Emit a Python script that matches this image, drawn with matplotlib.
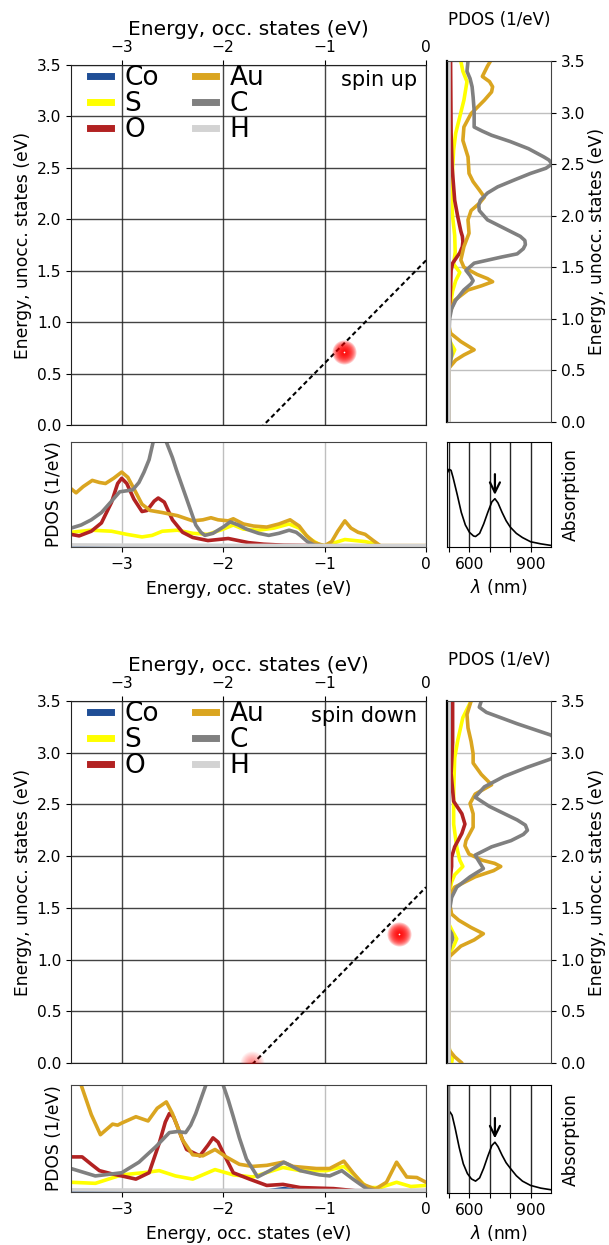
import numpy as np
import matplotlib
matplotlib.use('Agg')
import matplotlib.pyplot as plt
from matplotlib.lines import Line2D

# ---------------- data ----------------
species = ['Co', 'S', 'O', 'Au', 'C', 'H']
colors = ['#1f4e96', '#ffff00', '#b22222', '#daa520', '#808080', '#d3d3d3']

# spin up, occupied PDOS (energy eV, PDOS arb.)
up_occ_Co_E = [-3.5, 0.0]
up_occ_Co = [0.0, 0.0]
up_occ_S_E = [-3.5, -3.3, -3.1, -2.95, -2.8, -2.7, -2.6, -2.45, -2.3, -2.15, -2.0, -1.9, -1.8, -1.65,
              -1.5, -1.35, -1.25, -1.15, -1.05, -1.0, -0.9, -0.8, -0.7, -0.6, -0.5, -0.45, 0.0]
up_occ_S = [0.13, 0.15, 0.14, 0.11, 0.085, 0.10, 0.14, 0.15, 0.12, 0.11, 0.16, 0.20, 0.16, 0.15,
            0.17, 0.21, 0.17, 0.07, 0.01, 0.0, 0.03, 0.06, 0.05, 0.04, 0.02, 0.0, 0.0]
up_occ_O_E = [-3.5, -3.42, -3.3, -3.2, -3.1, -3.04, -3.0, -2.95, -2.88, -2.8, -2.75, -2.68, -2.64,
              -2.58, -2.5, -2.4, -2.3, -2.15, -2.05, -1.95, -1.85, -1.75, -1.6, -1.4, -1.0, 0.0]
up_occ_O = [0.11, 0.095, 0.14, 0.22, 0.42, 0.60, 0.65, 0.60, 0.45, 0.33, 0.34, 0.43, 0.46,
            0.42, 0.25, 0.13, 0.08, 0.05, 0.06, 0.07, 0.05, 0.03, 0.015, 0.005, 0.0, 0.0]
up_occ_Au_E = [-3.5, -3.45, -3.38, -3.29, -3.22, -3.16, -3.08, -3.0, -2.94, -2.88, -2.8, -2.72, -2.6,
               -2.45, -2.3, -2.2, -2.12, -2.05, -1.95, -1.9, -1.8, -1.7, -1.57, -1.45, -1.34, -1.25,
               -1.18, -1.1, -1.0, -0.93, -0.87, -0.8, -0.74, -0.67, -0.6, -0.52, -0.45, 0.0]
up_occ_Au = [0.55, 0.51, 0.57, 0.63, 0.61, 0.60, 0.65, 0.71, 0.66, 0.55, 0.40, 0.34, 0.32,
             0.29, 0.24, 0.25, 0.27, 0.25, 0.24, 0.26, 0.21, 0.19, 0.18, 0.21, 0.25, 0.19,
             0.10, 0.03, 0.0, 0.04, 0.14, 0.24, 0.17, 0.13, 0.11, 0.05, 0.0, 0.0]
up_occ_C_E = [-3.5, -3.4, -3.3, -3.2, -3.1, -3.02, -2.95, -2.89, -2.83, -2.78, -2.73, -2.69, -2.63,
              -2.56, -2.5, -2.46, -2.37, -2.27, -2.22, -2.18, -2.1, -2.0, -1.93, -1.85, -1.77, -1.65,
              -1.55, -1.45, -1.35, -1.28, -1.24, -1.17, -1.1, -1.0, 0.0]
up_occ_C = [0.17, 0.20, 0.25, 0.32, 0.43, 0.52, 0.53, 0.54, 0.61, 0.71, 0.83, 1.0, 1.08,
            1.0, 0.85, 0.73, 0.48, 0.20, 0.13, 0.10, 0.12, 0.18, 0.23, 0.20, 0.16, 0.12,
            0.10, 0.12, 0.15, 0.13, 0.10, 0.04, 0.005, 0.0, 0.0]
up_occ_H_E = [-3.5, -3.0, -2.0, -1.0, 0.0]
up_occ_H = [0.008, 0.006, 0.004, 0.002, 0.0]

# spin up, unoccupied PDOS
up_un_Co_E = [0.0, 3.5]
up_un_Co = [0.0, 0.0]
up_un_S_E = [0.0, 0.55, 0.63, 0.7, 0.77, 0.85, 1.0, 1.12, 1.27, 1.37, 1.45, 1.53, 1.65, 1.81, 1.99,
             2.15, 2.31, 2.47, 2.64, 2.8, 2.96, 3.12, 3.3, 3.4, 3.5]
up_un_S = [0.0, 0.0, 0.03, 0.06, 0.02, 0.0, 0.0, 0.015, 0.04, 0.07, 0.11, 0.05, 0.065, 0.06, 0.04,
           0.03, 0.035, 0.04, 0.05, 0.07, 0.11, 0.15, 0.18, 0.14, 0.12]
up_un_O_E = [0.0, 0.95, 1.1, 1.3, 1.47, 1.54, 1.64, 1.7, 1.75, 1.8, 1.85, 1.99, 2.15, 2.47, 2.8, 3.5]
up_un_O = [0.0, 0.0, 0.01, 0.02, 0.025, 0.04, 0.11, 0.135, 0.14, 0.135, 0.12, 0.09, 0.06, 0.035,
           0.025, 0.02]
up_un_Au_E = [0.0, 0.5, 0.53, 0.6, 0.65, 0.7, 0.78, 0.86, 0.95, 1.05, 1.18, 1.28, 1.32, 1.36, 1.39,
              1.43, 1.5, 1.57, 1.7, 1.83, 1.96, 2.05, 2.12, 2.18, 2.25, 2.33, 2.41, 2.57, 2.73, 2.86,
              2.99, 3.12, 3.2, 3.25, 3.3, 3.35, 3.45, 3.5]
up_un_Au = [0.0, 0.0, 0.01, 0.07, 0.15, 0.25, 0.12, 0.02, 0.0, 0.01, 0.06, 0.19, 0.32, 0.43, 0.38,
            0.28, 0.15, 0.12, 0.15, 0.20, 0.19, 0.22, 0.30, 0.35, 0.30, 0.24, 0.20, 0.19, 0.14, 0.15,
            0.22, 0.35, 0.42, 0.43, 0.40, 0.33, 0.38, 0.41]
up_un_C_E = [0.0, 0.5, 0.58, 0.66, 0.75, 0.85, 1.0, 1.1, 1.18, 1.28, 1.34, 1.37, 1.42, 1.47, 1.54,
             1.6, 1.63, 1.68, 1.72, 1.76, 1.8, 1.83, 1.9, 1.96, 2.05, 2.1, 2.15, 2.22, 2.28, 2.35,
             2.41, 2.46, 2.5, 2.54, 2.57, 2.65, 2.72, 2.78, 2.82, 2.86, 3.02, 3.15, 3.25, 3.33,
             3.4, 3.5]
up_un_C = [0.0, 0.0, 0.02, 0.03, 0.02, 0.005, 0.01, 0.03, 0.07, 0.15, 0.22, 0.24, 0.21, 0.17, 0.25,
           0.52, 0.67, 0.73, 0.75, 0.745, 0.70, 0.64, 0.50, 0.38, 0.30, 0.295, 0.31, 0.38, 0.48, 0.65,
           0.80, 0.95, 1.01, 0.98, 0.93, 0.78, 0.60, 0.42, 0.33, 0.25, 0.25, 0.24, 0.23, 0.21,
           0.18, 0.19]
up_un_H_E = [0.0, 3.5]
up_un_H = [0.0, 0.0]

# spin down, occupied PDOS
dn_occ_Co_E = [-3.5, -1.55, -1.4, -1.25, 0.0]
dn_occ_Co = [0.0, 0.0, 0.02, 0.0, 0.0]
dn_occ_S_E = [-3.5, -3.26, -3.0, -2.79, -2.63, -2.47, -2.3, -2.08, -1.9, -1.71, -1.41, -1.24, -0.98,
              -0.81, -0.72, -0.58, -0.45, -0.29, -0.15, 0.0]
dn_occ_S = [0.08, 0.07, 0.15, 0.17, 0.19, 0.14, 0.11, 0.20, 0.15, 0.13, 0.22, 0.19, 0.19,
            0.23, 0.16, 0.03, 0.03, 0.08, 0.04, 0.05]
dn_occ_O_E = [-3.5, -3.39, -3.3, -3.22, -3.1, -3.0, -2.86, -2.73, -2.63, -2.57, -2.53, -2.49, -2.46,
              -2.4, -2.36, -2.23, -2.15, -2.1, -2.05, -2.0, -1.9, -1.74, -1.57, -1.41, -1.24, -0.91,
              -0.7, 0.0]
dn_occ_O = [0.32, 0.32, 0.25, 0.19, 0.16, 0.14, 0.11, 0.17, 0.45, 0.65, 0.73, 0.70, 0.63,
            0.48, 0.39, 0.33, 0.43, 0.50, 0.46, 0.36, 0.17, 0.11, 0.05, 0.06, 0.03, 0.02,
            0.0, 0.0]
dn_occ_Au_E = [-3.5, -3.45, -3.4, -3.3, -3.21, -3.09, -3.04, -3.0, -2.86, -2.74, -2.65, -2.56, -2.5,
               -2.4, -2.3, -2.2, -2.08, -1.97, -1.84, -1.71, -1.57, -1.41, -1.31, -1.08, -0.95,
               -0.81, -0.72, -0.62, -0.5, -0.39, -0.29, -0.19, -0.09, 0.0]
dn_occ_Au = [1.25, 1.12, 1.0, 0.72, 0.53, 0.63, 0.62, 0.64, 0.70, 0.66, 0.78, 0.84, 0.73,
             0.48, 0.34, 0.33, 0.39, 0.32, 0.25, 0.23, 0.24, 0.27, 0.23, 0.21, 0.21,
             0.28, 0.17, 0.06, 0.015, 0.08, 0.27, 0.13, 0.125, 0.08]
dn_occ_C_E = [-3.5, -3.26, -3.0, -2.83, -2.66, -2.53, -2.45, -2.37, -2.32, -2.27, -2.2, -2.17, -2.1,
              -2.03, -2.0, -1.95, -1.9, -1.84, -1.77, -1.66, -1.54, -1.4, -1.24, -1.05, -0.95,
              -0.83, -0.72, -0.58, -0.5, 0.0]
dn_occ_C = [0.21, 0.14, 0.17, 0.27, 0.42, 0.55, 0.56, 0.55, 0.62, 0.73, 0.92, 1.0, 1.08,
            1.04, 1.0, 0.86, 0.70, 0.50, 0.30, 0.13, 0.19, 0.27, 0.19, 0.15, 0.14,
            0.19, 0.11, 0.015, 0.0, 0.0]
dn_occ_H_E = [-3.5, -3.0, -2.0, -1.0, 0.0]
dn_occ_H = [0.008, 0.006, 0.004, 0.002, 0.0]

# spin down, unoccupied PDOS
dn_un_Co_E = [0.0, 3.5]
dn_un_Co = [0.0, 0.0]
dn_un_S_E = [0.0, 0.06, 0.15, 1.05, 1.13, 1.2, 1.27, 1.35, 1.6, 1.75, 1.82, 1.9, 1.96, 2.0, 2.09,
             2.31, 2.63, 2.95, 3.12, 3.34, 3.5]
dn_un_S = [0.03, 0.04, 0.0, 0.0, 0.05, 0.08, 0.04, 0.0, 0.0, 0.03, 0.06, 0.14, 0.11, 0.10, 0.08,
           0.05, 0.05, 0.06, 0.09, 0.14, 0.22]
dn_un_O_E = [0.0, 1.1, 1.2, 1.3, 1.6, 1.73, 1.9, 1.99, 2.09, 2.22, 2.31, 2.41, 2.53, 2.8, 3.1, 3.5]
dn_un_O = [0.0, 0.0, 0.015, 0.0, 0.0, 0.01, 0.03, 0.03, 0.06, 0.13, 0.16, 0.13, 0.05, 0.025, 0.04, 0.04]
dn_un_Au_E = [0.0, 0.06, 0.12, 0.2, 0.95, 1.03, 1.13, 1.19, 1.25, 1.31, 1.38, 1.44, 1.55, 1.63, 1.7,
              1.8, 1.86, 1.9, 1.93, 1.96, 2.02, 2.1, 2.15, 2.28, 2.41, 2.51, 2.6, 2.69, 2.79, 2.9,
              2.99, 3.11, 3.24, 3.37, 3.5]
dn_un_Au = [0.13, 0.06, 0.01, 0.0, 0.0, 0.01, 0.12, 0.25, 0.34, 0.22, 0.10, 0.03, 0.01, 0.02, 0.06,
            0.26, 0.44, 0.51, 0.45, 0.33, 0.20, 0.16, 0.17, 0.24, 0.24, 0.21, 0.26, 0.42, 0.32, 0.24,
            0.24, 0.22, 0.19, 0.18, 0.22]
dn_un_C_E = [0.0, 1.05, 1.15, 1.2, 1.25, 1.3, 1.45, 1.51, 1.6, 1.7, 1.8, 1.88, 1.96, 2.01, 2.09, 2.15,
             2.21, 2.25, 2.3, 2.35, 2.48, 2.57, 2.67, 2.77, 2.86, 2.94, 3.06, 3.17, 3.28, 3.39, 3.44,
             3.5]
dn_un_C = [0.0, 0.0, 0.02, 0.04, 0.03, 0.0, 0.0, 0.015, 0.03, 0.08, 0.21, 0.34, 0.29, 0.26, 0.42, 0.61,
           0.73, 0.77, 0.75, 0.67, 0.40, 0.26, 0.35, 0.54, 0.77, 1.0, 1.12, 1.0, 0.67, 0.37, 0.30,
           0.32]
dn_un_H_E = [0.0, 3.5]
dn_un_H = [0.0, 0.0]

# absorption spectra
up_abs_wl = [490, 500, 510, 520, 540, 560, 580, 600, 620, 630, 650, 670, 690, 710, 725, 740, 760,
             780, 800, 830, 860, 900, 950, 1000]
up_abs = [0.70, 0.74, 0.73, 0.66, 0.50, 0.33, 0.21, 0.14, 0.105, 0.10, 0.13, 0.22, 0.33, 0.43, 0.46,
          0.42, 0.33, 0.25, 0.19, 0.13, 0.09, 0.05, 0.03, 0.015]
dn_abs_wl = [490, 500, 505, 515, 530, 550, 570, 590, 610, 630, 650, 670, 690, 710, 725, 740, 760,
             780, 800, 830, 860, 900, 950, 1000]
dn_abs = [0.70, 0.74, 0.75, 0.72, 0.60, 0.42, 0.27, 0.18, 0.13, 0.11, 0.14, 0.23, 0.34, 0.44, 0.47,
          0.43, 0.35, 0.28, 0.23, 0.16, 0.11, 0.07, 0.045, 0.03]
arrow_wl = [725, 725]
arrow_top = [0.72, 0.72]
arrow_tip = [0.47, 0.48]

# transitions (occ energy, unocc energy, intensity) and optical gap lines
up_tr_occ = [-0.81]
up_tr_un = [0.71]
up_tr_int = [1.0]
dn_tr_occ = [-0.27, -1.72]
dn_tr_un = [1.25, 0.0]
dn_tr_int = [1.0, 0.25]
gap_energy = [1.6, 1.7]
spin_labels = ['spin up', 'spin down']

# ---------------- figure ----------------
W, H = 609, 1245
fig = plt.figure(figsize=(W / 100, H / 100), dpi=100)


def ax_px(x0, y0, x1, y1):
    return fig.add_axes([x0 / W, 1 - y1 / H, (x1 - x0) / W, (y1 - y0) / H])


TICK = 11.2
LAB = 12.3
LW = 2.6


def glow(ax, x, y, inten):
    for d in np.linspace(24, 3, 12):
        s = (d / 1.389) ** 2
        ax.scatter([x], [y], s=s, color='red', alpha=0.2 * inten, lw=0, zorder=5, clip_on=True)
    if inten > 0.5:
        ax.scatter([x], [y], s=1.5, color='white', lw=0, zorder=6)


def block(main_box, right_box, bot_box, abs_box, occ, un, abs_wl, absv, tr, gap, label,
          arrow, gray_left):
    # main map
    ax = ax_px(*main_box)
    ax.set_xlim(-3.5, 0)
    ax.set_ylim(0, 3.5)
    ax.xaxis.tick_top()
    ax.xaxis.set_label_position('top')
    ax.set_xticks([-3, -2, -1, 0])
    ax.set_yticks(np.arange(0, 3.51, 0.5))
    ax.grid(True, color='#222222', lw=1.0, alpha=0.85)
    ax.tick_params(labelsize=TICK)
    ax.set_xlabel('Energy, occ. states (eV)', fontsize=14.5, labelpad=4)
    ax.set_ylabel('Energy, unocc. states (eV)', fontsize=LAB, labelpad=3)
    xs = np.array([-3.5, 0.0])
    ax.plot(xs, xs + gap, color='k', lw=1.5, ls=(0, (2.2, 1.5)), zorder=4)
    for xo, yu, it in zip(*tr):
        glow(ax, xo, yu, it)
    handles = [Line2D([], [], color=c, lw=5) for c in colors]
    ax.legend(handles, species, ncol=2, loc='upper left', frameon=False, fontsize=19,
              handlelength=0.8, handletextpad=0.5, columnspacing=1.37, labelspacing=0.0,
              borderaxespad=0.0, borderpad=0.2, bbox_to_anchor=(0.039, 1.014))
    ax.text(0.975, 0.985, label, transform=ax.transAxes, ha='right', va='top', fontsize=15)
    for s in ax.spines.values():
        s.set_color('#222222')

    # right PDOS (unoccupied)
    ar = ax_px(*right_box)
    for (E, v), c in zip(un, colors):
        ar.plot(v, E, color=c, lw=LW, solid_joinstyle='round', solid_capstyle='round')
    ar.set_ylim(0, 3.5)
    ar.set_xlim(-0.015, 1.0)
    ar.set_xticks([])
    ar.yaxis.tick_right()
    ar.yaxis.set_label_position('right')
    ar.set_yticks(np.arange(0, 3.51, 0.5))
    ar.grid(True, axis='y', color='#b0b0b0', lw=1.0, alpha=0.8)
    ar.tick_params(labelsize=TICK)
    ar.set_ylabel('Energy, unocc. states (eV)', fontsize=LAB, labelpad=2)
    ar.set_title('PDOS (1/eV)', fontsize=12, pad=26)
    ar.spines['left'].set_linewidth(1.6)
    ar.spines['left'].set_color('k')
    for k in ['right', 'top', 'bottom']:
        ar.spines[k].set_color('#444444')

    # bottom PDOS (occupied)
    ab = ax_px(*bot_box)
    for (E, v), c in zip(occ, colors):
        ab.plot(E, v, color=c, lw=LW, solid_joinstyle='round', solid_capstyle='round')
    ab.set_xlim(-3.5, 0)
    ab.set_ylim(-0.012, 1.0)
    ab.set_yticks([])
    ab.set_xticks([-3, -2, -1, 0])
    ab.grid(True, axis='x', color='#b0b0b0', lw=1.0, alpha=0.8)
    ab.tick_params(labelsize=TICK)
    ab.set_xlabel('Energy, occ. states (eV)', fontsize=LAB, labelpad=6)
    ab.set_ylabel('PDOS (1/eV)', fontsize=LAB, labelpad=6)
    for s in ab.spines.values():
        s.set_color('#444444')

    # absorption
    aa = ax_px(*abs_box)
    aa.plot(abs_wl, absv, color='k', lw=1.2)
    aa.set_xlim(490, 1000)
    aa.set_ylim(0, 1)
    aa.set_xticks([500, 600, 700, 800, 900])
    aa.set_xticklabels(['', '600', '', '', '900'])
    aa.set_yticks([])
    aa.grid(True, axis='x', color='k', lw=1.0, alpha=0.85)
    aa.tick_params(labelsize=TICK)
    aa.yaxis.set_label_position('right')
    aa.set_ylabel('Absorption', fontsize=LAB, labelpad=8)
    aa.set_xlabel(r'$\lambda$ (nm)', fontsize=LAB, labelpad=4)
    aa.annotate('', xy=(arrow[0], arrow[2]), xytext=(arrow[0], arrow[1]),
                arrowprops=dict(arrowstyle='->', lw=1.6, color='k', mutation_scale=18))
    if gray_left:
        aa.axvline(491, color='#808080', lw=3.5)


up_occ = [(up_occ_Co_E, up_occ_Co), (up_occ_S_E, up_occ_S), (up_occ_O_E, up_occ_O),
          (up_occ_Au_E, up_occ_Au), (up_occ_C_E, up_occ_C), (up_occ_H_E, up_occ_H)]
up_un = [(up_un_Co_E, up_un_Co), (up_un_S_E, up_un_S), (up_un_O_E, up_un_O),
         (up_un_Au_E, up_un_Au), (up_un_C_E, up_un_C), (up_un_H_E, up_un_H)]
dn_occ = [(dn_occ_Co_E, dn_occ_Co), (dn_occ_S_E, dn_occ_S), (dn_occ_O_E, dn_occ_O),
          (dn_occ_Au_E, dn_occ_Au), (dn_occ_C_E, dn_occ_C), (dn_occ_H_E, dn_occ_H)]
dn_un = [(dn_un_Co_E, dn_un_Co), (dn_un_S_E, dn_un_S), (dn_un_O_E, dn_un_O),
         (dn_un_Au_E, dn_un_Au), (dn_un_C_E, dn_un_C), (dn_un_H_E, dn_un_H)]

block((71, 65, 426, 425), (447, 61, 551, 422), (71, 442, 426, 547), (447, 442, 551, 547),
      up_occ, up_un, up_abs_wl, up_abs, (up_tr_occ, up_tr_un, up_tr_int), gap_energy[0],
      spin_labels[0], (arrow_wl[0], arrow_top[0], arrow_tip[0]), False)
block((71, 701, 426, 1063), (447, 701, 551, 1063), (71, 1085, 426, 1192), (447, 1085, 551, 1193),
      dn_occ, dn_un, dn_abs_wl, dn_abs, (dn_tr_occ, dn_tr_un, dn_tr_int), gap_energy[1],
      spin_labels[1], (arrow_wl[1], arrow_top[1], arrow_tip[1]), True)

fig.savefig('out.png', dpi=100)
